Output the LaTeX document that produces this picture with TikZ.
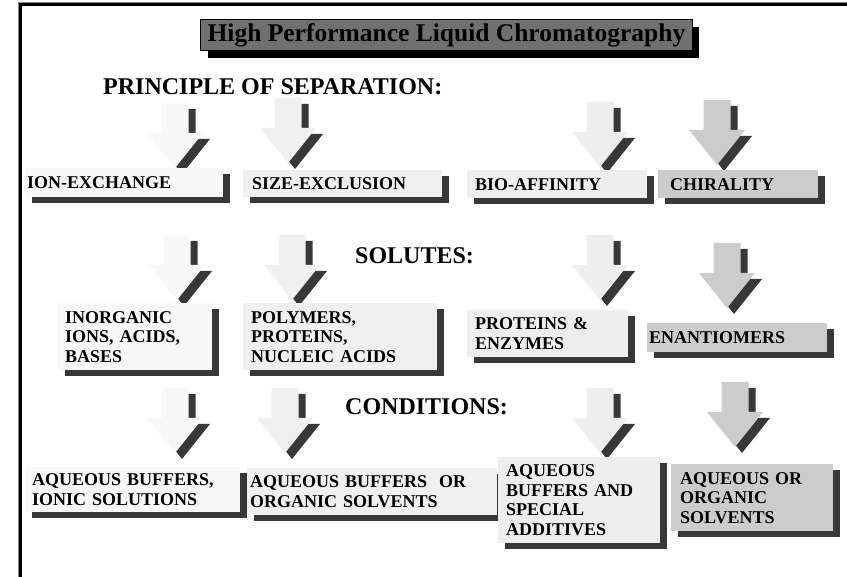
\documentclass[tikz,border=0pt]{standalone}
\usepackage{fontspec}
\setmainfont{Liberation Serif}
\usetikzlibrary{shadows}

\definecolor{sdark}{RGB}{56,56,56}
\definecolor{titlegray}{RGB}{112,112,112}
\definecolor{colA}{RGB}{248,248,248}
\definecolor{colB}{RGB}{240,240,240}
\definecolor{colC}{RGB}{238,238,238}
\definecolor{colD}{RGB}{204,204,204}

\tikzset{
	heading/.style={anchor=west, inner sep=0pt, font=\fontsize{24}{28}\selectfont\bfseries},
	titlebox/.style={anchor=north west, fill=titlegray, draw=black, line width=1.2pt,
		inner xsep=7pt, inner ysep=0pt, minimum height=31pt,
		font=\fontsize{25.5}{28}\selectfont\bfseries,
		drop shadow={shadow xshift=7pt, shadow yshift=-7pt, fill=black, opacity=1}},
	solbox/.style={anchor=north west, align=left, inner ysep=0pt,
		font=\fontsize{18}{19.5}\selectfont\bfseries,
		drop shadow={shadow xshift=7pt, shadow yshift=-6pt, fill=sdark, opacity=1}},
}

\begin{document}
\begin{tikzpicture}[x=1pt, y=-1pt]

	\useasboundingbox (0,0) rectangle (847,577);

	% Frame
	\draw[gray, line width=1pt] (18,577) -- (18,2.5) -- (847,2.5);
	\draw[black, line width=3pt] (20.5,577) -- (20.5,5) -- (847,5);

	% Title and headings
	\node[titlebox] (title) at (200,19) {High Performance Liquid Chromatography};
	\node[heading] (principle) at (103,87) {PRINCIPLE OF SEPARATION:};
	\node[heading] (solutes) at (355,256) {SOLUTES:};
	\node[heading] (conditions) at (345,407) {CONDITIONS:};

	% Block arrows (tip x / tip y / fill)
	\def\arrowShape{(0,0) -- (28,-35) -- (13.5,-35) -- (13.5,-65) -- (-13.5,-65) -- (-13.5,-35) -- (-28,-35) -- cycle}
	\foreach \tx/\ty/\col in {175/168/colA, 288/163/colB, 600/167/colC, 717/165/colD,
	                          177/300/colA, 292/300/colB, 600/300/colC, 727/308/colD,
	                          175/453/colA, 285/453/colB, 600/453/colC, 735/447/colD}
	{
		\fill[sdark, shift={(\tx+7,\ty+6)}] \arrowShape;
		\fill[\col, shift={(\tx,\ty)}] \arrowShape;
	}

	% Principle of separation
	\node[solbox, fill=colA, inner xsep=2pt, text width=194pt, minimum height=29pt] (ionex) at (25,168) {ION-EXCHANGE};
	\node[solbox, fill=colB, inner xsep=9pt, text width=181pt, minimum height=27pt] (sizeex) at (243,170) {SIZE-EXCLUSION};
	\node[solbox, fill=colC, inner xsep=8pt, text width=164pt, minimum height=28pt] (bioaff) at (467,170) {BIO-AFFINITY};
	\node[solbox, fill=colD, inner xsep=12pt, text width=136pt, minimum height=28pt] (chiral) at (658,170) {CHIRALITY};

	% Solutes
	\node[solbox, fill=colA, inner xsep=7pt, text width=140pt, minimum height=67pt] (inorg) at (58,303) {INORGANIC\\ IONS, ACIDS,\\ BASES};
	\node[solbox, fill=colB, inner xsep=8pt, text width=178pt, minimum height=67pt] (polym) at (243,303) {POLYMERS,\\ PROTEINS,\\ NUCLEIC ACIDS};
	\node[solbox, fill=colC, inner xsep=8pt, text width=145pt, minimum height=47pt] (protenz) at (467,310) {PROTEINS \&\\ ENZYMES};
	\node[solbox, fill=colD, inner xsep=2pt, text width=176pt, minimum height=29pt] (enant) at (647,323) {ENANTIOMERS};

	% Conditions
	\node[solbox, fill=colA, inner xsep=7pt, text width=201pt, minimum height=45pt] (aqionic) at (25,467) {AQUEOUS BUFFERS,\\ IONIC SOLUTIONS};
	\node[solbox, fill=colB, inner xsep=3pt, text width=244pt, minimum height=47pt] (aqorg) at (247,468) {AQUEOUS BUFFERS~ OR\\ ORGANIC SOLVENTS};
	\node[solbox, fill=colC, inner xsep=8pt, text width=146pt, minimum height=86pt] (aqspec) at (498,457) {AQUEOUS\\ BUFFERS AND\\ SPECIAL\\ ADDITIVES};
	\node[solbox, fill=colD, inner xsep=9pt, text width=144pt, minimum height=67pt] (aqsolv) at (671,464) {AQUEOUS OR\\ ORGANIC\\ SOLVENTS};

\end{tikzpicture}
\end{document}
